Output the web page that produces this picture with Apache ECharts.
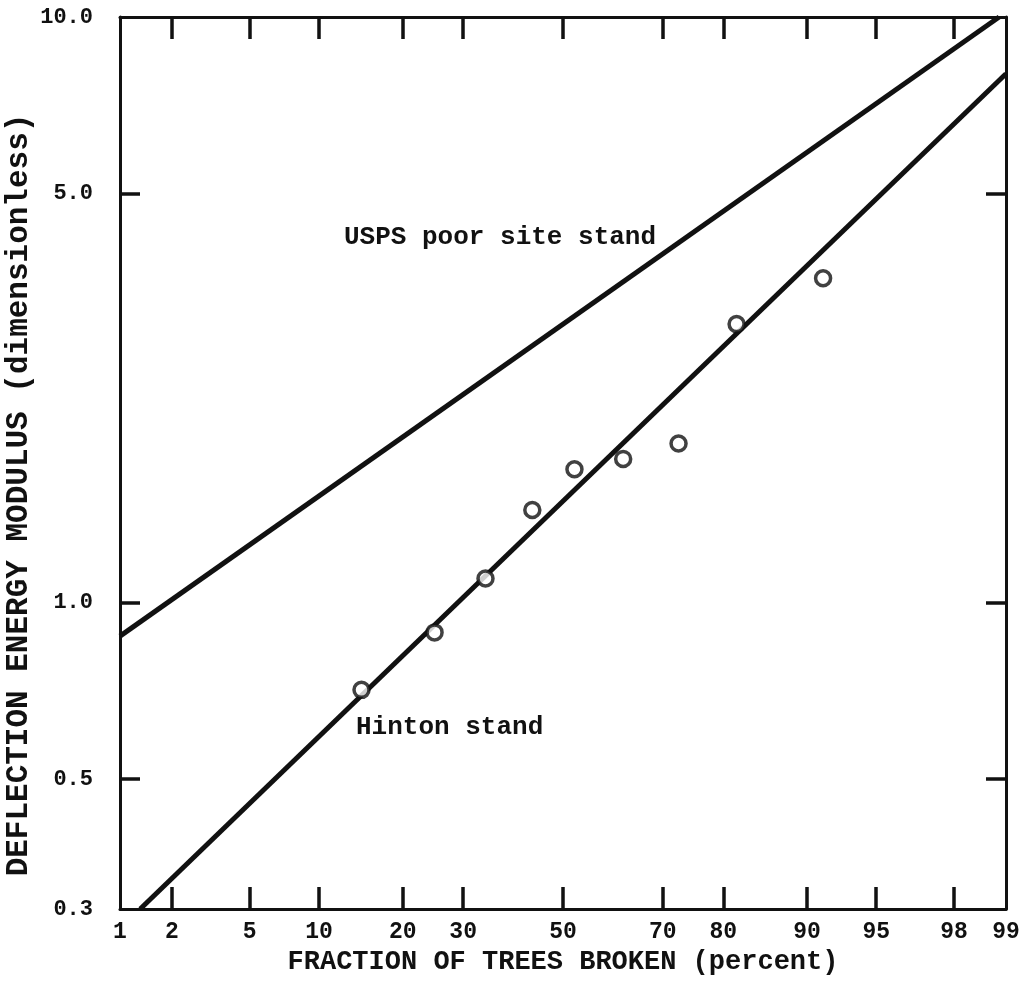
<!DOCTYPE html>
<html>
<head>
<meta charset="utf-8">
<script src="https://cdn.jsdelivr.net/npm/echarts@6/dist/echarts.min.js"></script>
<style>
html,body{margin:0;padding:0;background:#fff;}
#chart{width:1027px;height:1005px;}
</style>
</head>
<body>
<div id="chart"></div>
<script>
// ---- data ----
const xTicks = [1, 2, 5, 10, 20, 30, 50, 70, 80, 90, 95, 98, 99];
const xInnerTicks = [2, 5, 10, 20, 30, 50, 70, 80, 90, 95, 98];
const yTicks = [0.3, 0.5, 1.0, 5.0, 10.0];
const yInnerTicks = [0.5, 1.0, 5.0];

const hintonPct = [14.5, 25.0, 34.2, 43.6, 52.4, 62.4, 72.8, 81.9, 91.4];
const hintonVal = [0.71, 0.89, 1.10, 1.44, 1.69, 1.76, 1.87, 2.99, 3.58];

const uspsLinePct = [1, 98.9];
const uspsLineVal = [0.877, 10];
const hintonLinePct = [1.32, 99];
const hintonLineVal = [0.3, 8.0];

const xTitle = 'FRACTION OF TREES BROKEN (percent)';
const yTitle = 'DEFLECTION ENERGY MODULUS (dimensionless)';
const uspsLabel = 'USPS poor site stand';
const hintonLabel = 'Hinton stand';

// ---- normal probability scale (inverse normal CDF, Acklam) ----
function probit(p) {
  const a=[-3.969683028665376e+01,2.209460984245205e+02,-2.759285104469687e+02,1.383577518672690e+02,-3.066479806614716e+01,2.506628277459239e+00];
  const b=[-5.447609879822406e+01,1.615858368580409e+02,-1.556989798598866e+02,6.680131188771972e+01,-1.328068155288572e+01];
  const c=[-7.784894002430293e-03,-3.223964580411365e-01,-2.400758277161838e+00,-2.549732539343734e+00,4.374664141464968e+00,2.938163982698783e+00];
  const d=[7.784695709041462e-03,3.224671290700398e-01,2.445134137142996e+00,3.754408661907416e+00];
  const pl=0.02425, ph=1-pl; let q,r;
  if (p < pl) { q=Math.sqrt(-2*Math.log(p)); return (((((c[0]*q+c[1])*q+c[2])*q+c[3])*q+c[4])*q+c[5])/((((d[0]*q+d[1])*q+d[2])*q+d[3])*q+1); }
  if (p <= ph) { q=p-0.5; r=q*q; return (((((a[0]*r+a[1])*r+a[2])*r+a[3])*r+a[4])*r+a[5])*q/(((((b[0]*r+b[1])*r+b[2])*r+b[3])*r+b[4])*r+1); }
  q=Math.sqrt(-2*Math.log(1-p)); return -(((((c[0]*q+c[1])*q+c[2])*q+c[3])*q+c[4])*q+c[5])/((((d[0]*q+d[1])*q+d[2])*q+d[3])*q+1);
}
const zOf = pct => probit(pct / 100);
const xMin = zOf(xTicks[0]);
const xMax = -xMin;

const pairs = (ps, vs) => ps.map((p, i) => [zOf(p), vs[i]]);

const FONT = '"Liberation Mono", "DejaVu Sans Mono", monospace';
const INK = '#111';

const chart = echarts.init(document.getElementById('chart'), null, {renderer: 'canvas'});

function xFmt(v) {
  let best = xTicks[0], bd = Infinity;
  xTicks.forEach(t => { const dd = Math.abs(zOf(t) - v); if (dd < bd) { bd = dd; best = t; } });
  return String(best);
}

const commonX = {
  type: 'value', min: xMin, max: xMax,
  splitLine: {show: false},
  axisLine: {show: true, onZero: false, lineStyle: {color: INK, width: 3}},
  axisTick: {show: true, inside: true, length: 22, lineStyle: {color: INK, width: 3.5},
             customValues: xInnerTicks.map(zOf)}
};
const commonY = {
  type: 'log', logBase: 10, min: yTicks[0], max: yTicks[yTicks.length - 1],
  splitLine: {show: false},
  axisLine: {show: true, onZero: false, lineStyle: {color: INK, width: 3}},
  axisTick: {show: true, inside: true, length: 20, lineStyle: {color: INK, width: 3.5},
             customValues: yInnerTicks}
};

chart.setOption({
  backgroundColor: '#fff',
  animation: false,
  grid: {left: 120, right: 21, top: 17, bottom: 96, show: false, containLabel: false, outerBoundsMode: 'none'},
  xAxis: [
    Object.assign({}, commonX, {
      position: 'bottom',
      name: xTitle, nameLocation: 'middle', nameGap: 40,
      nameTextStyle: {fontFamily: FONT, fontWeight: 'bold', fontSize: 27, color: INK},
      axisLabel: {show: true, margin: 12, fontFamily: FONT, fontWeight: 'bold', fontSize: 23, color: INK,
                  customValues: xTicks.map(zOf), formatter: xFmt}
    }),
    Object.assign({}, commonX, {position: 'top', axisLabel: {show: false}})
  ],
  yAxis: [
    Object.assign({}, commonY, {
      position: 'left',
      axisLabel: {show: true, margin: 27, fontFamily: FONT, fontWeight: 'bold', fontSize: 22, color: INK,
                  customValues: yTicks, formatter: v => Number(v).toFixed(1)}
    }),
    Object.assign({}, commonY, {position: 'right', axisLabel: {show: false}})
  ],
  graphic: [
    {type: 'text', x: 19, y: 495, rotation: Math.PI / 2,
     style: {text: yTitle, font: 'bold 31px ' + FONT, fill: INK, align: 'center', verticalAlign: 'middle'}},
    {type: 'text', left: 344, top: 224, style: {text: uspsLabel, font: 'bold 26px ' + FONT, fill: INK}},
    {type: 'text', left: 356, top: 714, style: {text: hintonLabel, font: 'bold 26px ' + FONT, fill: INK}}
  ],
  series: [
    {
      name: 'USPS poor site stand', type: 'line', xAxisIndex: 0, yAxisIndex: 0,
      data: pairs(uspsLinePct, uspsLineVal), symbol: 'none', clip: true,
      lineStyle: {color: INK, width: 5}
    },
    {
      name: 'Hinton stand (fit)', type: 'line', xAxisIndex: 0, yAxisIndex: 0,
      data: pairs(hintonLinePct, hintonLineVal), symbol: 'none', clip: true,
      lineStyle: {color: INK, width: 5}
    },
    {
      name: 'Hinton stand', type: 'scatter', xAxisIndex: 0, yAxisIndex: 0,
      data: pairs(hintonPct, hintonVal), symbol: 'circle', symbolSize: 15,
      itemStyle: {color: '#fff', borderColor: INK, borderWidth: 3.5}, z: 5
    }
  ]
});
</script>
</body>
</html>
